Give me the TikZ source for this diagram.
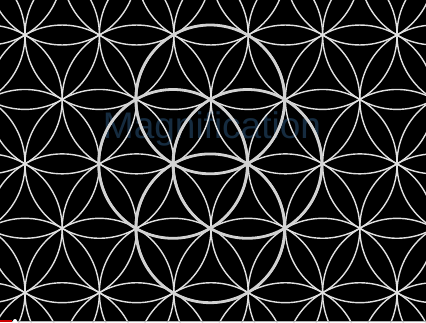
\documentclass[tikz,border=0pt]{standalone}
\usepackage{fontspec}
\setmainfont{Liberation Sans}
\usepackage{tikz}
\usetikzlibrary{calc}
\definecolor{petal}{RGB}{225,225,225}
\definecolor{mark}{RGB}{22,44,64}

\begin{document}
\begin{tikzpicture}[x=1pt, y=-1pt,
        petal/.style={draw=petal, line width=1.4pt},
        seed/.style={draw=petal!85!gray, line width=2.8pt}]
        % Frame
        \useasboundingbox (0,0) rectangle (426,322);
        \fill[black] (0,0) rectangle (426,322);
        \clip (0,0) rectangle (426,322);

        % Watermark
        \node[text=mark, font=\fontsize{37}{37}\selectfont] (watermark) at (212,129) {Magnification};

        % Flower of life lattice
        \foreach \j in {-2,...,6} {
            \pgfmathsetmacro\off{mod(\j+10,2)*37.2}
            \foreach \k in {-2,...,7}
                \draw[petal] ({25+74.4*\k+\off},{35+64.43*\j}) circle[radius=74.4pt];
        }

        % Seed circles
        \foreach \c in {(210.2,99.4),(173,163.9),(247.4,163.9),(210.2,228.3)}
            \draw[seed] \c circle[radius=74.4pt];

        % Player bar
        \fill[gray!60] (0,320.5) rectangle (426,322);
        \fill[red!80!black] (0,320) rectangle (12,322);
        \fill[white] (15,321) circle[radius=2pt];
    \end{tikzpicture}
\end{document}
